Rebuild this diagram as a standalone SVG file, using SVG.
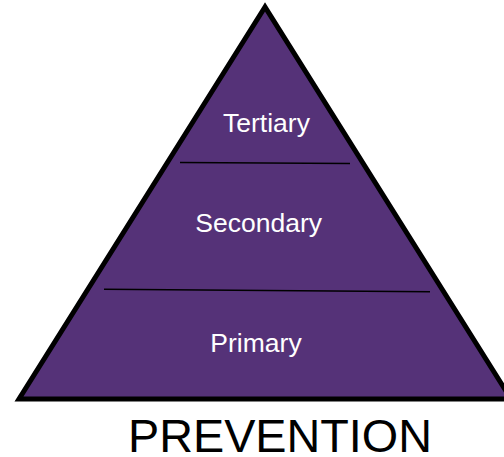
<svg xmlns="http://www.w3.org/2000/svg" width="504" height="457" viewBox="0 0 504 457">
<style>
.lbl{font-family:"Liberation Sans",Arial,sans-serif;font-size:26.5px;fill:#ffffff;text-anchor:middle}
.div{stroke:#000;stroke-width:1.6;fill:none}
</style>
<rect width="504" height="457" fill="#ffffff"/>
<g id="pyramid">
<polygon points="265,7 19,399 511,399" fill="#553278" stroke="#000" stroke-width="5" stroke-linejoin="miter"/>
</g>
<g id="connectors">
<line class="div" x1="180" y1="162.5" x2="350" y2="163.5"/>
<line class="div" x1="104" y1="289.3" x2="430" y2="291.7"/>
</g>
<g id="tertiary"><text class="lbl" x="266.5" y="132.3">Tertiary</text></g>
<g id="secondary"><text class="lbl" x="258.7" y="232.3">Secondary</text></g>
<g id="primary"><text class="lbl" x="256" y="352.3">Primary</text></g>
<g id="title"><text x="128" y="451.5" font-family="'Liberation Sans',Arial,sans-serif" font-size="46.5" fill="#000" textLength="304" lengthAdjust="spacingAndGlyphs">PREVENTION</text></g>
</svg>
